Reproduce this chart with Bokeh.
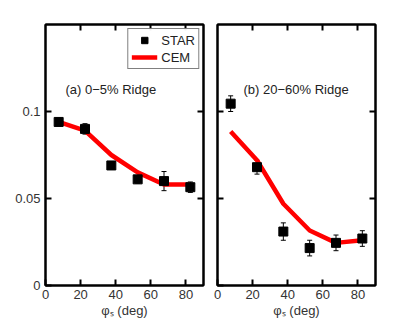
import math
from bokeh.plotting import figure
from bokeh.models import (LinearAxis, Whisker, ColumnDataSource, Label, Legend,
                          LegendItem, FixedTicker, TeeHead, Range1d)
from bokeh.layouts import row
from bokeh.embed import file_html
from bokeh.resources import INLINE

phi = [7.5, 22.5, 37.5, 52.5, 67.5, 82.5]
star_a = [0.094, 0.090, 0.069, 0.061, 0.060, 0.0565]
err_a = [0.0022, 0.003, 0.002, 0.0022, 0.0055, 0.003]
cem_a = [0.094, 0.089, 0.075, 0.065, 0.058, 0.058]
star_b = [0.1045, 0.068, 0.031, 0.0215, 0.0245, 0.027]
err_b = [0.0045, 0.004, 0.005, 0.0045, 0.0045, 0.0045]
cem_b = [0.0885, 0.072, 0.047, 0.0316, 0.0245, 0.026]

x_ticks = [0, 20, 40, 60, 80]
y_ticks = [0, 0.05, 0.1]
y_tick_labels = {0: "0", 0.05: "0.05", 0.1: "0.1"}

FONT = "Liberation Sans"


def make_panel(star, err, cem, title, title_x, first):
    p = figure(frame_width=158, frame_height=261,
               min_border_left=45 if first else 7, min_border_right=7 if first else 10,
               min_border_top=24, min_border_bottom=40,
               x_range=Range1d(0, 90), y_range=Range1d(0, 0.15),
               output_backend="svg", toolbar_location=None)
    p.grid.visible = False
    p.outline_line_color = "black"
    p.outline_line_width = 2
    p.background_fill_color = "white"

    for ax in (p.xaxis[0], p.yaxis[0]):
        ax.major_tick_in = 6
        ax.major_tick_out = 0
        ax.minor_tick_line_color = None
        ax.axis_line_width = 2
        ax.major_tick_line_width = 2
        ax.major_label_text_font = FONT
        ax.major_label_text_font_size = "13px"
        ax.major_label_text_color = "#333333"
        ax.axis_label_text_font = FONT
        ax.axis_label_text_font_size = "13px"
        ax.axis_label_text_font_style = "normal"
        ax.axis_label_text_color = "#333333"
    p.xaxis.ticker = FixedTicker(ticks=x_ticks)
    p.xaxis.major_label_standoff = 4
    p.xaxis.axis_label = "φₛ (deg)"
    p.xaxis.axis_label_standoff = 1
    p.yaxis.ticker = FixedTicker(ticks=y_ticks)
    if first:
        p.yaxis.major_label_overrides = y_tick_labels
        p.yaxis.major_label_standoff = 5
        p.add_layout(Label(x=0, y=0.075, x_offset=-32, angle=math.pi / 2,
                           text="Y(φₛ)", text_font=FONT, text_font_size="13px",
                           text_align="center", text_baseline="middle",
                           text_color="#333333"))
    else:
        p.yaxis.major_label_text_color = None
        p.yaxis.major_label_standoff = 0

    right = LinearAxis(ticker=FixedTicker(ticks=[0.05, 0.1]), major_tick_in=6,
                       major_tick_out=0, minor_tick_line_color=None,
                       major_label_text_color=None, major_label_standoff=0,
                       axis_line_width=2, major_tick_line_width=2)
    above = LinearAxis(ticker=FixedTicker(ticks=[20, 40, 60, 80]), major_tick_in=6,
                       major_tick_out=0, minor_tick_line_color=None,
                       major_label_text_color=None, major_label_standoff=0,
                       axis_line_width=2, major_tick_line_width=2)
    p.add_layout(right, "right")
    p.add_layout(above, "above")

    src = ColumnDataSource(dict(x=phi, y=star,
                                lo=[s - e for s, e in zip(star, err)],
                                hi=[s + e for s, e in zip(star, err)]))
    w = Whisker(base="x", upper="hi", lower="lo", source=src, line_width=1,
                line_color="black", level="underlay",
                upper_head=TeeHead(size=5, line_width=1),
                lower_head=TeeHead(size=5, line_width=1))
    p.add_layout(w)
    ln = p.line(phi, cem, line_color="#ff0000", line_width=4.5)
    sq = p.scatter("x", "y", source=src, marker="square", size=9,
                   fill_color="black", line_color="black")

    p.add_layout(Label(x=title_x, y=0.1126, text=title, text_font=FONT,
                       text_font_size="13px", text_baseline="middle",
                       text_color="#222222"))
    if first:
        leg = Legend(items=[LegendItem(label="STAR", renderers=[sq]),
                            LegendItem(label="CEM", renderers=[ln])],
                     location="top_right", border_line_color="black",
                     border_line_width=1, label_text_font=FONT,
                     label_text_font_size="13px", label_text_color="#222222",
                     glyph_width=26, glyph_height=16, spacing=1, padding=3,
                     margin=4, label_standoff=4)
        p.add_layout(leg)
    return p


pa = make_panel(star_a, err_a, cem_a, "(a) 0−5% Ridge", 11.4, True)
pb = make_panel(star_b, err_b, cem_b, "(b) 20−60% Ridge", 14.8, False)
layout = row(pa, pb)

open("out.html", "w").write(file_html(layout, INLINE))
